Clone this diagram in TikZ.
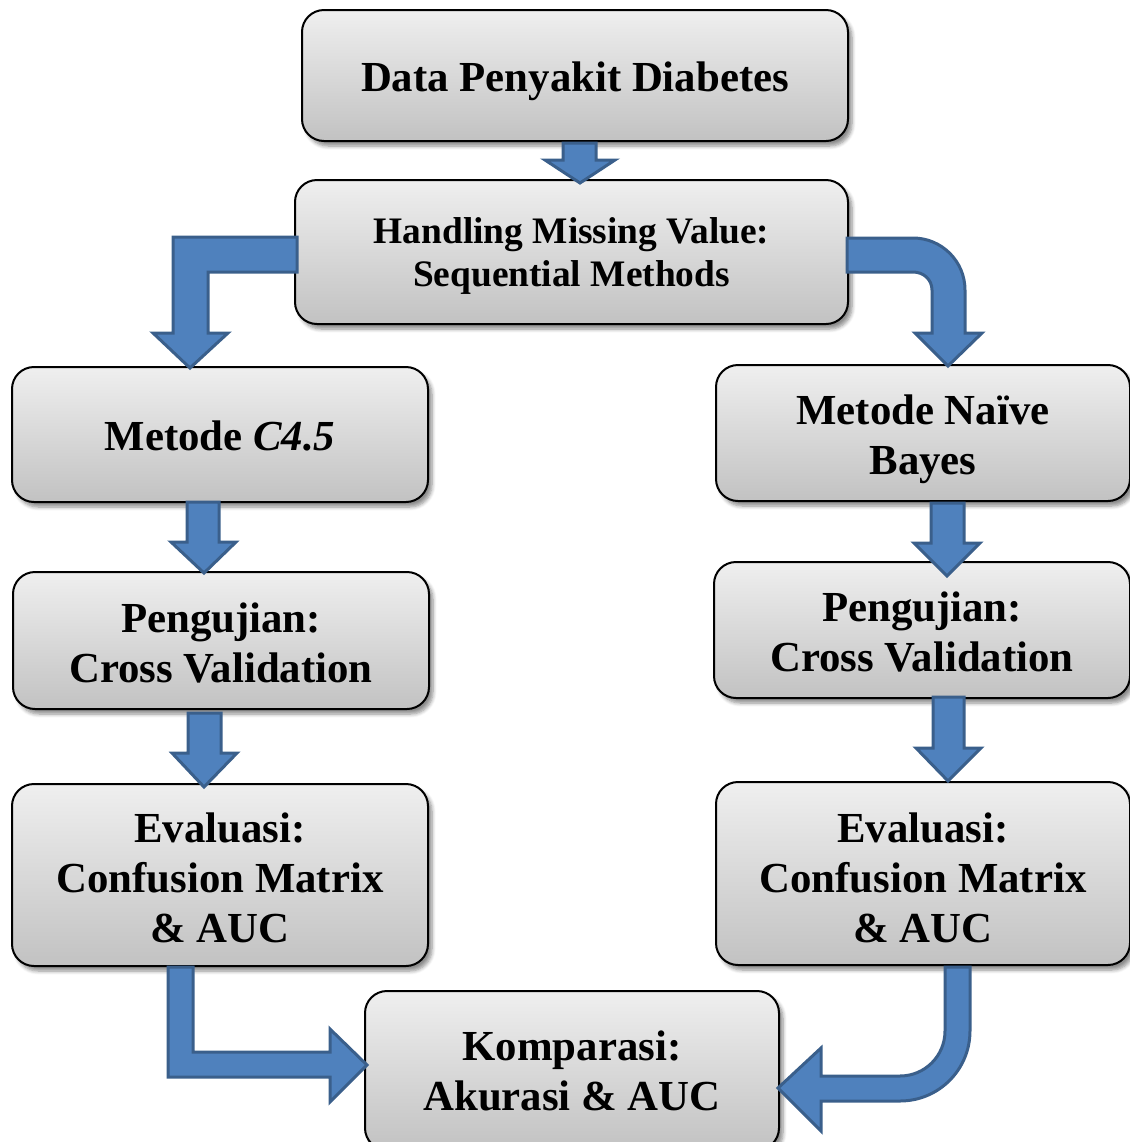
\documentclass[tikz,border=0pt]{standalone}
\usepackage{fontspec}
\setmainfont{Liberation Serif}
\usetikzlibrary{shadows.blur}
\definecolor{boxtop}{HTML}{EFEFEF}
\definecolor{boxbot}{HTML}{C2C2C2}
\definecolor{arrfill}{HTML}{4F81BD}
\definecolor{arrline}{HTML}{3A5F8B}
\begin{document}
\begin{tikzpicture}[x=0.5pt,y=-0.5pt,
  box/.style={draw=black, line width=1pt, rounded corners=11pt,
    top color=boxtop, bottom color=boxbot, inner sep=0pt,
    blur shadow={shadow xshift=2pt, shadow yshift=-2.5pt, shadow blur steps=6, shadow opacity=45}},
  txt/.style={inner sep=0pt, align=center, font=\fontsize{21.4}{25}\selectfont\bfseries},
  smalltxt/.style={txt, font=\fontsize{18.7}{21.5}\selectfont\bfseries},
  blockarrow/.style={fill=arrfill, draw=arrline, line width=1.5pt, line join=miter}]
\useasboundingbox (0,0) rectangle (1130,1142);

\node[box, minimum width=273pt, minimum height=65.5pt] (data) at (575,75.5) {};
\node[box, minimum width=276.5pt, minimum height=72pt] (hand) at (571.5,252) {};
\node[box, minimum width=208pt, minimum height=67.5pt] (c45) at (220,434.5) {};
\node[box, minimum width=207pt, minimum height=68pt] (nb) at (923,433) {};
\node[box, minimum width=208pt, minimum height=68.5pt] (pl) at (221,640.5) {};
\node[box, minimum width=208pt, minimum height=68pt] (pr) at (922,630) {};
\node[box, minimum width=208pt, minimum height=91pt] (el) at (220,875) {};
\node[box, minimum width=207pt, minimum height=91.5pt] (er) at (923,873.5) {};
\node[box, minimum width=207pt, minimum height=79.5pt] (komp) at (572,1070.5) {};

\node[txt, yshift=-3pt] (datat) at (data) {Data Penyakit Diabetes};
\node[smalltxt, yshift=-2pt] (handt) at (hand) {Handling Missing Value:\\Sequential Methods};
\node[txt, yshift=-0.5pt] (c45t) at (c45) {Metode \textit{C4.5}};
\node[txt, yshift=-3pt] (nbt) at (nb) {Metode Naïve\\Bayes};
\node[txt, yshift=-1pt] (plt) at (pl) {Pengujian:\\Cross Validation};
\node[txt, yshift=-1pt] (prt) at (pr) {Pengujian:\\Cross Validation};
\node[txt, yshift=-1.5pt] (elt) at (el) {Evaluasi:\\Confusion Matrix\\\& AUC};
\node[txt, yshift=-2pt] (ert) at (er) {Evaluasi:\\Confusion Matrix\\\& AUC};
\node[txt] (kompt) at (komp) {Komparasi:\\Akurasi \& AUC};

% top arrow
\draw[blockarrow] (563,143) -- (596,143) -- (596,160) -- (615,160) -- (580,183) -- (545,160) -- (563,160) -- cycle;
% left bent arrow
\draw[blockarrow] (297,237) -- (173,237) -- (173,333) -- (153,333) -- (190,368) -- (228,333) -- (208,333) -- (208,272) -- (297,272) -- cycle;
% right curved arrow
\draw[blockarrow] (847,238) -- (913,238) .. controls (941.7,238) and (965,261.3) .. (965,290)
  -- (965,333) -- (982,333) -- (948,366) -- (915,333) -- (932,333) -- (932,290)
  .. controls (932,279.5) and (923.5,272) .. (913,272) -- (847,272) -- cycle;
% left column arrows
\draw[blockarrow] (187,502) -- (219,502) -- (219,542) -- (236,542) -- (204,573) -- (171,542) -- (187,542) -- cycle;
\draw[blockarrow] (188,713) -- (221,713) -- (221,753) -- (237,753) -- (204,787) -- (172,753) -- (188,753) -- cycle;
% right column arrows
\draw[blockarrow] (931,503) -- (964,503) -- (964,543) -- (980,543) -- (947,576) -- (914,543) -- (931,543) -- cycle;
\draw[blockarrow] (933,697) -- (964,697) -- (964,748) -- (981,748) -- (948,781) -- (916,748) -- (933,748) -- cycle;
% bottom left arrow
\draw[blockarrow] (168,967) -- (168,1077) -- (330,1077) -- (330,1102) -- (367,1065) -- (330,1029) -- (330,1052) -- (193,1052) -- (193,967) -- cycle;
% bottom right arrow
\draw[blockarrow] (945,967) -- (970,967) -- (970,1031) .. controls (970,1069.7) and (938.7,1101) .. (900,1101)
  -- (821,1101) -- (821,1131) -- (778,1088) -- (821,1048) -- (821,1076) -- (900,1076)
  .. controls (924.9,1076) and (945,1055.9) .. (945,1031) -- cycle;
\end{tikzpicture}
\end{document}
